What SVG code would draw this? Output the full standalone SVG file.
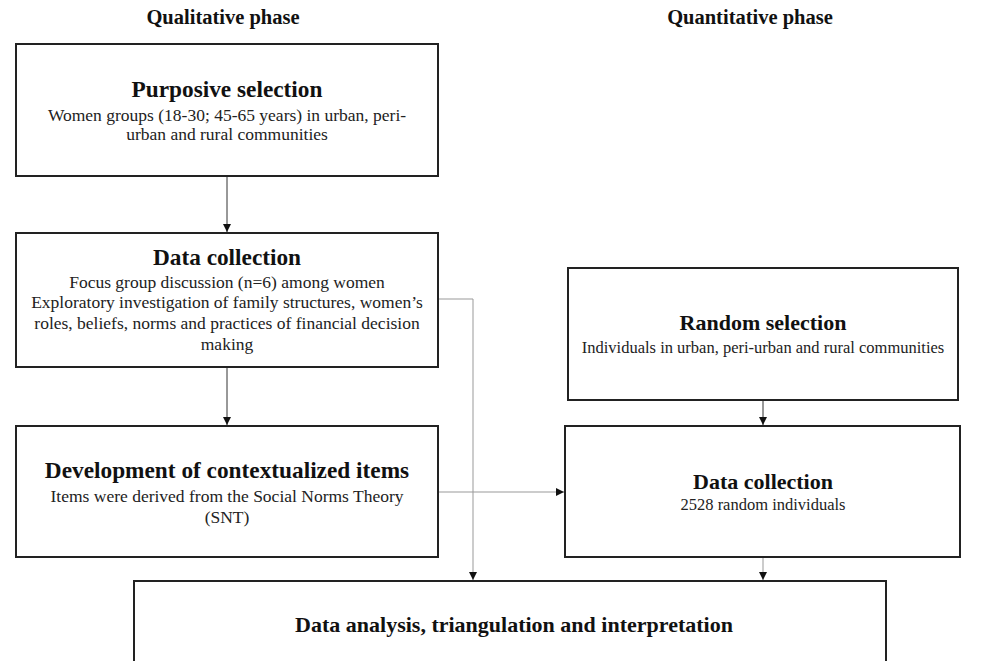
<svg xmlns="http://www.w3.org/2000/svg" width="998" height="661" viewBox="0 0 998 661">
<style>
.box{fill:#fff;stroke:#222;stroke-width:2}
.hd{font-family:"Liberation Serif","Times New Roman",serif;font-weight:bold;fill:#111;text-anchor:middle}
.t{font-family:"Liberation Serif","Times New Roman",serif;fill:#222;text-anchor:middle}
.ph{font-size:20.5px}
.hL{font-size:23.3px}
.hR{font-size:22px}
.tL{font-size:17.5px}
.tR{font-size:16.5px}
.dk{stroke:#333;stroke-width:1;fill:none}
.lt{stroke:#999;stroke-width:1;fill:none}
</style>
<defs>
<marker id="ah" markerWidth="8" markerHeight="8" refX="8" refY="4" orient="auto" markerUnits="userSpaceOnUse">
<path d="M0,0 L8,4 L0,8 Z" fill="#111"/>
</marker>
</defs>
<rect width="998" height="661" fill="#fff"/>
<text class="hd ph" x="223" y="24">Qualitative phase</text>
<text class="hd ph" x="750" y="24">Quantitative phase</text>

<g id="connectors">
<line class="dk" x1="227" y1="176" x2="227" y2="232" marker-end="url(#ah)"/>
<line class="dk" x1="227" y1="367" x2="227" y2="425" marker-end="url(#ah)"/>
<polyline class="lt" points="438,299 473,299 473,580" marker-end="url(#ah)"/>
<line class="lt" x1="438" y1="492" x2="564" y2="492" marker-end="url(#ah)"/>
<line class="dk" x1="763" y1="400" x2="763" y2="425" marker-end="url(#ah)"/>
<line class="lt" x1="763" y1="557" x2="763" y2="580" marker-end="url(#ah)"/>
</g>

<g id="purposive">
<rect class="box" x="16" y="44" width="422" height="132"/>
<text class="hd hL" x="227" y="97">Purposive selection</text>
<text class="t tL" x="227" y="121">Women groups (18-30; 45-65 years) in urban, peri-</text>
<text class="t tL" x="227" y="140">urban and rural communities</text>
</g>

<g id="qual-collection">
<rect class="box" x="16" y="233" width="422" height="134"/>
<text class="hd hL" x="227" y="265">Data collection</text>
<text class="t tL" x="227" y="288">Focus group discussion (n=6) among women</text>
<text class="t tL" x="227" y="308">Exploratory investigation of family structures, women’s</text>
<text class="t tL" x="227" y="329">roles, beliefs, norms and practices of financial decision</text>
<text class="t tL" x="227" y="350">making</text>
</g>

<g id="development">
<rect class="box" x="16" y="426" width="422" height="131"/>
<text class="hd hL" x="227" y="478">Development of contextualized items</text>
<text class="t tL" x="227" y="502">Items were derived from the Social Norms Theory</text>
<text class="t tL" x="227" y="523">(SNT)</text>
</g>

<g id="random">
<rect class="box" x="568" y="268" width="390" height="132"/>
<text class="hd hR" x="763" y="330">Random selection</text>
<text class="t tR" x="763" y="353">Individuals in urban, peri-urban and rural communities</text>
</g>

<g id="quant-collection">
<rect class="box" x="565" y="426" width="395" height="131"/>
<text class="hd hR" x="763" y="489">Data collection</text>
<text class="t tR" x="763" y="510">2528 random individuals</text>
</g>

<g id="analysis">
<rect class="box" x="134" y="581" width="752" height="110"/>
<text class="hd hR" x="514" y="632">Data analysis, triangulation and interpretation</text>
</g>
</svg>
